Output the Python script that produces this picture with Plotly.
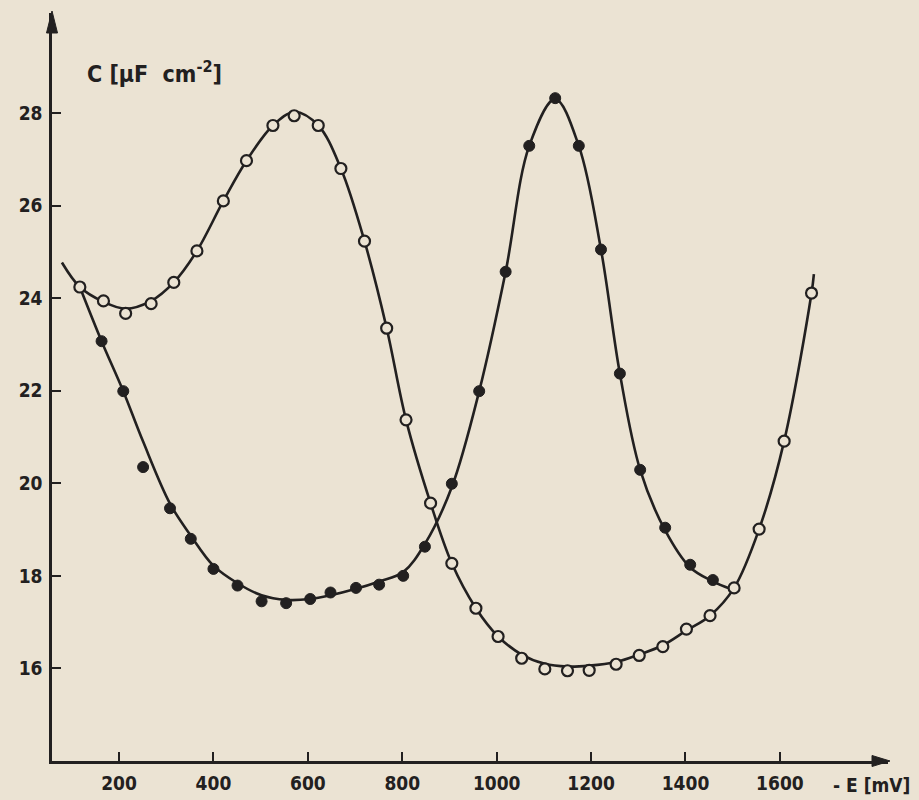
import plotly.graph_objects as go

# ---- data ----
open_E = [117, 167, 214, 268, 316, 365, 421, 470, 526, 571, 622, 670, 720, 767, 808, 860,
          905, 956, 1003, 1053, 1102, 1150, 1196, 1253, 1302, 1352, 1402, 1452, 1503, 1556,
          1609, 1667]
open_C = [24.24, 23.94, 23.67, 23.88, 24.34, 25.02, 26.10, 26.97, 27.73, 27.94, 27.73, 26.80,
          25.23, 23.35, 21.37, 19.57, 18.27, 17.30, 16.69, 16.22, 15.99, 15.95, 15.96, 16.09,
          16.28, 16.47, 16.85, 17.14, 17.74, 19.01, 20.91, 24.11]

filled_E = [163, 209, 251, 308, 352, 400, 451, 502, 554, 605, 648, 702, 751, 802, 848, 905,
            963, 1019, 1069, 1124, 1174, 1221, 1261, 1304, 1357, 1410, 1458]
filled_C = [23.07, 21.99, 20.35, 19.46, 18.80, 18.15, 17.79, 17.45, 17.41, 17.50, 17.64, 17.74,
            17.81, 18.00, 18.63, 19.99, 21.99, 24.57, 27.29, 28.32, 27.29, 25.05, 22.37, 20.29,
            19.04, 18.24, 17.91]

# fitted curves
open_line_E = [79, 117, 167, 214, 268, 316, 365, 421, 470, 526, 572, 622, 670, 720, 767, 808,
               860, 905, 956, 1003, 1053, 1102, 1150, 1196, 1253, 1302, 1352, 1402, 1452, 1503,
               1556, 1609, 1667, 1672]
open_line_C = [24.77, 24.24, 23.92, 23.77, 23.94, 24.34, 25.02, 26.10, 26.97, 27.73, 28.02,
               27.73, 26.80, 25.23, 23.35, 21.37, 19.57, 18.27, 17.30, 16.69, 16.30, 16.10,
               16.04, 16.06, 16.14, 16.30, 16.50, 16.82, 17.14, 17.74, 19.01, 20.91, 24.11, 24.52]

filled_line_E = [117, 163, 209, 251, 308, 352, 400, 451, 502, 554, 605, 648, 702, 751, 802,
                 848, 905, 963, 1019, 1069, 1124, 1174, 1221, 1261, 1304, 1357, 1410, 1458, 1495]
filled_line_C = [24.24, 23.07, 21.99, 20.90, 19.56, 18.87, 18.22, 17.84, 17.58, 17.48, 17.50,
                 17.58, 17.72, 17.88, 18.08, 18.69, 19.92, 21.99, 24.57, 27.29, 28.30, 27.29,
                 25.05, 22.37, 20.29, 18.98, 18.18, 17.88, 17.72]

x_ticks = [200, 400, 600, 800, 1000, 1200, 1400, 1600]
y_ticks = [16, 18, 20, 22, 24, 26, 28]

BG = "#ebe3d3"
INK = "#222020"
FONT = "DejaVu Sans Condensed, DejaVu Sans, sans-serif"

fig = go.Figure()

fig.add_trace(go.Scatter(x=open_line_E, y=open_line_C, mode="lines",
                         line=dict(color=INK, width=2.6, shape="spline", smoothing=1.0),
                         hoverinfo="skip"))
fig.add_trace(go.Scatter(x=filled_line_E, y=filled_line_C, mode="lines",
                         line=dict(color=INK, width=2.6, shape="spline", smoothing=1.0),
                         hoverinfo="skip"))
fig.add_trace(go.Scatter(x=filled_E, y=filled_C, mode="markers",
                         marker=dict(symbol="circle", size=11, color=INK,
                                     line=dict(color=INK, width=1))))
fig.add_trace(go.Scatter(x=open_E, y=open_C, mode="markers",
                         marker=dict(symbol="circle", size=11, color=BG,
                                     line=dict(color=INK, width=2.2))))

axis_common = dict(showgrid=False, zeroline=False, showline=True, linecolor=INK,
                   linewidth=2.5, ticks="inside", ticklen=9, tickwidth=2.2, tickcolor=INK,
                   automargin=False,
                   tickfont=dict(family=FONT, size=19, color=INK, weight="bold"))

fig.update_layout(
    width=919, height=800,
    paper_bgcolor=BG, plot_bgcolor=BG,
    showlegend=False,
    margin=dict(l=52, r=31, t=13, b=39, autoexpand=False),
    xaxis=dict(range=[58, 1829], tickvals=x_ticks, ticktext=[str(v) for v in x_ticks],
               ticklabelstandoff=3, **axis_common),
    yaxis=dict(range=[14, 30.16], tickvals=y_ticks, ticktext=[str(v) for v in y_ticks],
               ticklabelstandoff=3, **axis_common),
    shapes=[
        # arrowheads at the ends of the axes
        dict(type="path", xref="paper", yref="paper", xsizemode="pixel", ysizemode="pixel",
             xanchor=1, yanchor=0, path="M 2,0 L -16,5.5 L -16,-5.5 Z",
             fillcolor=INK, line=dict(color=INK, width=1)),
        dict(type="path", xref="paper", yref="paper", xsizemode="pixel", ysizemode="pixel",
             xanchor=0, yanchor=1, path="M 0,2 L 5.5,-20 L -5.5,-20 Z",
             fillcolor=INK, line=dict(color=INK, width=1)),
    ],
    annotations=[
        dict(x=128, y=28.88, xref="x", yref="y", xanchor="left", yanchor="middle",
             showarrow=False, text="C [μF  cm<sup>-2</sup>]",
             font=dict(family=FONT, size=23, color=INK, weight="bold")),
        dict(x=1708, y=14, xref="x", yref="y", xanchor="left", yanchor="top", yshift=-11,
             showarrow=False, text="- E [mV]",
             font=dict(family=FONT, size=19, color=INK, weight="bold")),
    ],
)

fig.write_html("out.html", config={"displayModeBar": False},
               post_script="document.body.style.margin='0';document.body.style.background='"
                           + BG + "';")
